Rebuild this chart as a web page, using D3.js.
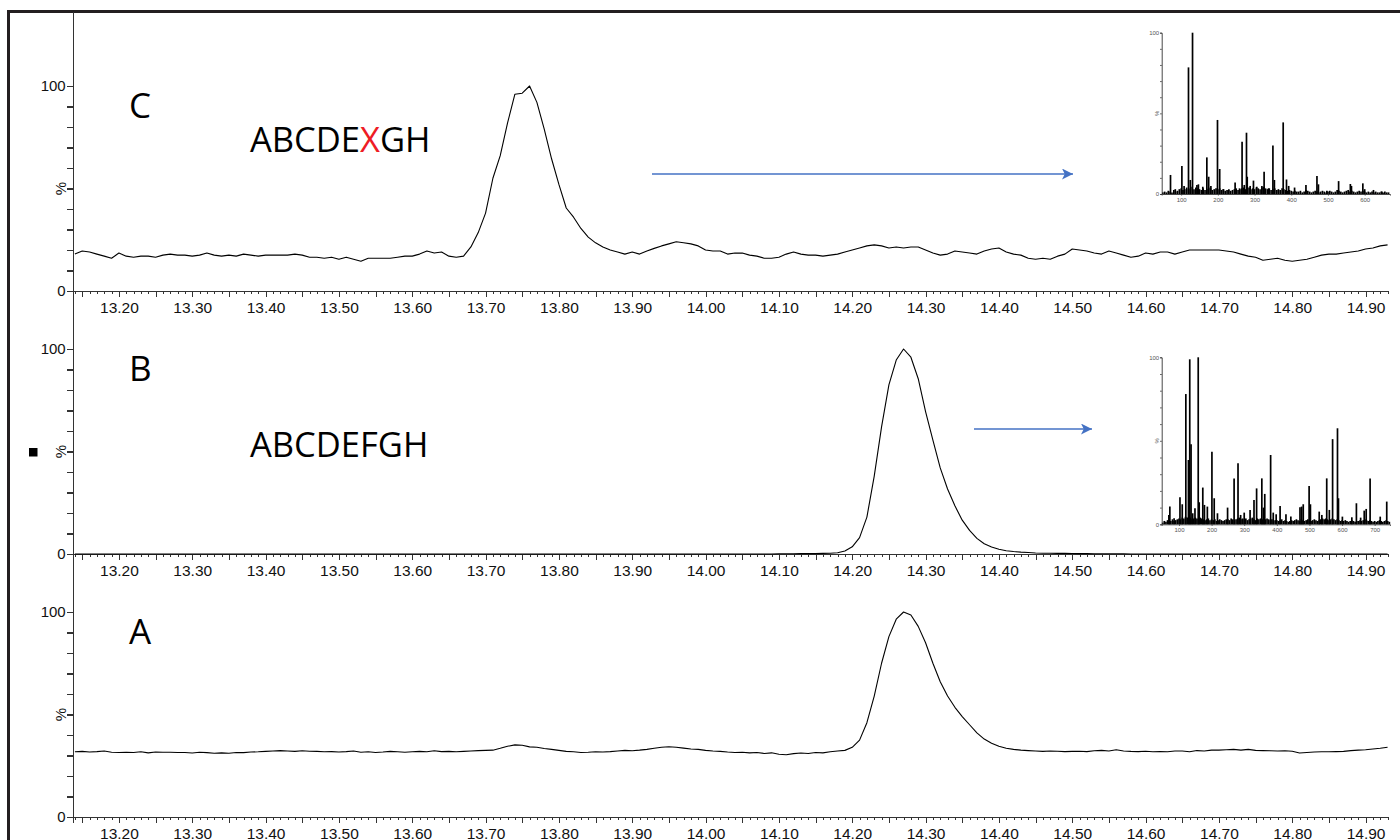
<!DOCTYPE html>
<html>
<head>
<meta charset="utf-8">
<script src="https://cdn.jsdelivr.net/npm/d3@7"></script>
<style>
body { margin: 0; background: #fff; }
svg { display: block; }
</style>
</head>
<body>
<svg></svg>
<script>

// chromatogram sampling grid
const startTime = 13.14
const timeStep = 0.01

const traceC = [
    18, 19.5, 19, 18, 17, 16,
    18.5, 17, 16.5, 17, 17, 16.5, 17.5, 18, 17.5, 17.5,
    17, 17.5, 18.5, 17.5, 17, 17.5, 17, 18, 17.5, 17,
    17.5, 17.5, 17.5, 17.5, 18, 17.5, 16.5, 16.5, 16, 16.5,
    15.5, 16.5, 15.5, 14.5, 16, 16, 16, 16, 16.5, 17,
    17, 18, 19.5, 18.5, 19, 17, 16.5, 17, 21.5, 28.5,
    38, 55, 66, 82, 96, 96.5, 100, 92, 79, 64.5,
    52, 40.5, 36, 30.5, 26.3, 23.5, 21.5, 20, 19, 18,
    19, 18, 19.5, 20.8, 22, 23, 24, 23.5, 23, 22,
    20, 19.5, 19.5, 18, 18.5, 18.5, 17.5, 17, 16, 16,
    16.5, 18, 19, 18, 17.5, 17.5, 17, 17.5, 18, 19,
    20, 21, 22, 22.5, 22, 21, 21.5, 21, 21.5, 21.5,
    20, 18.5, 17.5, 18, 19.5, 19, 18.5, 18, 19.5, 20.5,
    21, 19, 18, 17.5, 16, 15.5, 16, 15.5, 17, 18,
    20.5, 20, 19.5, 18.5, 18, 19.5, 18.5, 17.5, 16.5, 17,
    18.5, 18, 19, 19, 18, 19, 20, 20, 20, 20,
    20, 19.5, 19, 18, 17, 16.5, 15, 15.5, 16, 15,
    14.5, 15, 15.5, 16.5, 17.5, 18, 18, 18.5, 19, 19.5,
    20.5, 21, 22, 22.5
]

const traceB = [
    0, 0, 0, 0, 0, 0,
    0, 0, 0, 0, 0, 0, 0, 0, 0, 0,
    0, 0, 0, 0, 0, 0, 0, 0, 0, 0,
    0, 0, 0, 0, 0, 0, 0, 0, 0, 0,
    0, 0, 0, 0, 0, 0, 0, 0, 0, 0,
    0, 0, 0, 0, 0, 0, 0, 0, 0, 0,
    0, 0, 0, 0, 0, 0, 0, 0, 0, 0,
    0, 0, 0, 0, 0, 0, 0, 0, 0, 0,
    0, 0, 0, 0, 0, 0, 0, 0, 0, 0,
    0, 0, 0, 0, 0, 0, 0, 0, 0, 0,
    0.1, 0.1, 0.1, 0.2, 0.2, 0.2, 0.3, 0.4, 0.6, 1.5,
    3.5, 8, 18, 38, 62, 82.5, 94.6, 100, 96, 85.5,
    69.5, 55.5, 42, 31.7, 23.5, 16.5, 11.5, 7.6, 5, 3.4,
    2.3, 1.6, 1.2, 0.9, 0.7, 0.5, 0.4, 0.35, 0.3, 0.3,
    0.25, 0.2, 0.2, 0.15, 0.1, 0.1, 0.1, 0.1, 0, 0,
    0, 0, 0, 0, 0, 0, 0, 0, 0, 0,
    0, 0, 0, 0, 0, 0, 0, 0, 0, 0,
    0, 0, 0, 0, 0, 0, 0, 0, 0, 0,
    0, 0, 0, 0
]

const traceA = [
    31.8, 32, 31.7, 31.9, 32.2, 31.6,
    31.5, 31.6, 31.5, 31.8, 31.3, 31.7, 31.6, 31.6, 31.5, 31.5,
    31.2, 31.6, 31.4, 31.1, 31.3, 31.1, 31.5, 31.4, 31.7, 31.8,
    32, 32.2, 32.4, 32.2, 32, 32.3, 32.1, 32, 31.8, 31.9,
    31.7, 31.9, 32.2, 31.6, 31.8, 31.5, 31.7, 32, 31.8, 31.6,
    31.8, 32, 31.8, 32.3, 31.9, 32, 31.8, 32, 32.2, 32.4,
    32.5, 32.6, 33.5, 34.5, 35.2, 35, 34.2, 34, 33.4, 33,
    32.5, 32, 31.8, 31.5, 31.6, 31.8, 31.7, 31.9, 32.2, 32.5,
    32.3, 32.6, 33, 33.5, 34, 34.3, 34, 33.6, 33.2, 33,
    32.5, 32.2, 32, 31.7, 31.5, 31.6, 31.3, 31.5, 31, 31.3,
    30.6, 30.4, 30.9, 31.2, 31, 31.5, 31.3, 31.8, 32.2, 32.5,
    34, 37.5, 46, 59, 75, 88, 96.5, 100, 98.5, 93,
    85, 75, 66, 59, 53.5, 49, 45, 41, 38, 36,
    34.5, 33.5, 33, 32.6, 32.4, 32.2, 32, 32.2, 32.1, 31.9,
    32, 32.1, 31.9, 32.3, 32.5, 32.2, 32.8, 32.2, 32, 31.9,
    32.1, 31.8, 31.9, 31.8, 32.2, 32.2, 31.8, 32.4, 32.2, 32.6,
    32.6, 32.8, 33, 32.6, 33, 32.5, 32.4, 32.3, 32.2, 32.3,
    32.1, 31.2, 31.5, 31.7, 31.8, 31.8, 31.9, 32, 32.4, 32.6,
    32.8, 33.2, 33.5, 34
]

const panelLabels = ["C", "B", "A"]
const sequenceLabels = ["ABCDE", "X", "GH"]
const sequenceLabelB = "ABCDEFGH"

const xTickLabels = [
    "13.20", "13.30", "13.40", "13.50", "13.60", "13.70", "13.80", "13.90", "14.00",
    "14.10", "14.20", "14.30", "14.40", "14.50", "14.60", "14.70", "14.80", "14.90"
]
const yTickLabels = ["0", "100"]

// mass spectrum in inset C
const specCMz = [71, 84, 102, 108, 120, 125, 131, 143, 147, 159, 170, 175, 181, 199, 205, 215, 229, 247, 259, 266,
    272, 278, 280, 288, 297, 306, 320, 326, 338, 350, 354, 365, 378, 387, 393, 409, 440, 470, 474, 497,
    529, 561, 564, 595, 600, 624, 647]
const specCInt = [11.8, 3, 17.4, 5, 78.5, 8.7, 100, 5.6, 6, 4.5, 22.7, 10.7, 5, 45.9, 15.5, 3, 2.5, 7.2, 3.5, 32.4,
    5.6, 38, 10.7, 5, 8.3, 4.5, 5, 13.8, 3.5, 30, 8.7, 2.5, 44.4, 9, 5, 4, 5.6, 11.2, 6, 2,
    8, 6.2, 5, 6.6, 3, 2.5, 1.5]
const specCFloor = [
    1, 1.5, 1, 2, 1.5, 1, 2.5, 1.5, 2, 3,
    3.5, 2.5, 3, 4, 3, 3.5, 4.5, 3, 4, 3.5,
    3, 2.5, 3.5, 2.5, 3, 4, 3.5, 2.5, 3, 3.5,
    3, 3.5, 2.5, 3, 2, 2.5, 3, 2, 2.5, 3,
    3.5, 2.5, 3, 3.5, 4, 3, 3.5, 4, 3, 3.5,
    3, 4, 3.5, 3, 4, 4.5, 3.5, 3, 3.5, 2.5,
    3, 3.5, 2.5, 3, 2.5, 3.5, 3, 2.5, 2, 2.5,
    2, 1.5, 2, 1.5, 1.5, 2, 1, 1.5, 2.5, 2,
    1.5, 1, 1.5, 2, 1.5, 1, 1.5, 2, 1.5, 1,
    1.5, 2, 1.5, 1, 1.5, 2.5, 2, 1.5, 1, 1.5,
    2, 2.5, 1.5, 2, 1.5, 1, 1.5, 2, 1.5, 2,
    1.5, 1, 1.5, 1, 1.5, 1, 1.5, 1, 1, 1.5,
    1, 1.5, 1, 1
]
const specCTicks = ["100", "200", "300", "400", "500", "600"]

// mass spectrum in inset B
const specBMz = [69, 72, 85, 103, 110, 121, 129, 133, 137, 142, 149, 159, 162, 173, 178, 187, 201, 208, 218, 249,
    269, 281, 289, 300, 318, 330, 338, 354, 359, 363, 381, 389, 398, 410, 428, 443, 471, 476, 481, 499,
    503, 530, 538, 553, 561, 571, 586, 589, 601, 630, 644, 657, 668, 674, 686, 717, 737]
const specBInt = [5.6, 10.6, 3.6, 16.2, 12, 78, 38.5, 98.8, 48, 6.6, 9.6, 100, 13.2, 22, 11.6, 10.6, 43.5, 15.6, 6.6, 10,
    27.5, 36.5, 5.6, 7, 8.6, 14.6, 21.5, 27.5, 10, 18.2, 41.5, 7, 6, 11, 6, 4.6, 10.2, 10.6, 12, 23,
    12, 7.6, 5.6, 27.5, 8.6, 51, 57.5, 15.6, 4.6, 4.2, 12.6, 4, 8.2, 9.2, 27.5, 4.6, 13.6]
const specBFloor = [
    1, 2, 1.5, 2.5, 1.5, 2, 3, 2, 2.5, 3,
    3.5, 3, 4, 3.5, 4.5, 4, 3.5, 4, 3, 3.5,
    4, 3.5, 3, 4, 3.5, 3, 2.5, 3, 3.5, 2.5,
    3, 2.5, 3, 2, 2.5, 3, 2.5, 2, 2.5, 3,
    3, 2.5, 3.5, 3, 2.5, 3, 3.5, 4, 3, 3.5,
    3, 3.5, 2.5, 3, 3.5, 4, 3, 2.5, 3.5, 3,
    3.5, 3, 2.5, 3, 3.5, 3, 2.5, 3, 2, 2.5,
    2.5, 2, 2.5, 3, 2, 2.5, 2, 1.5, 2, 2.5,
    2, 2.5, 3, 2.5, 2, 3, 2.5, 2, 2.5, 3,
    2.5, 2, 2.5, 3, 2.5, 2, 2.5, 3, 3.5, 3,
    3.5, 3, 2.5, 3, 3.5, 3, 2.5, 3, 2.5, 2,
    2.5, 2, 2.5, 2, 1.5, 2, 2.5, 2, 1.5, 2,
    2, 2.5, 2, 2.5, 3, 2.5, 2, 2.5, 2, 1.5,
    2, 1.5, 2, 2.5, 2, 1.5, 2, 2.5, 2, 1.5
]
const specBTicks = ["100", "200", "300", "400", "500", "600", "700"]

const floorStart = 50
const floorStep = 5


const svg = d3.select("svg")
    .attr("width", 1400)
    .attr("height", 840)

svg.append("rect")
    .attr("width", 1400)
    .attr("height", 840)
    .attr("fill", "#fff")

// outer frame (only top and left edges are visible in the picture)
svg.append("rect")
    .attr("x", 8.5)
    .attr("y", 11.5)
    .attr("width", 1500)
    .attr("height", 1000)
    .attr("fill", "none")
    .attr("stroke", "#231f20")
    .attr("stroke-width", 3)

svg.append("rect")
    .attr("x", 29)
    .attr("y", 448)
    .attr("width", 8.5)
    .attr("height", 8.5)
    .attr("fill", "#000")

const x = d3.scaleLinear()
    .domain([13.137, 14.931])
    .range([72.7, 1388.3])

const minorTicks = d3.range(1314, 1494).map(d => d / 100).filter(d => d >= 13.137 && d <= 14.931)
const midTicks = d3.range(263, 299).map(d => d * 0.05).filter(d => Math.round(d * 100) % 10 !== 0)

const times = traceC.map((d, i) => startTime + i * timeStep)

const panelTops = [86, 349, 612]
const panelHeight = 205
const traces = [traceC, traceB, traceA]

const axisColor = "#333"

const drawPanel = function(trace, top, label) {

    const y = d3.scaleLinear()
        .domain([0, 100])
        .range([top + panelHeight, top])

    const g = svg.append("g")

    // x axis: minor ticks, half ticks, labelled ticks
    g.append("g")
        .attr("transform", `translate(0, ${top + panelHeight})`)
        .call(d3.axisBottom(x).tickValues(minorTicks).tickSize(3).tickFormat(""))
    g.append("g")
        .attr("transform", `translate(0, ${top + panelHeight})`)
        .call(d3.axisBottom(x).tickValues(midTicks).tickSize(6).tickFormat(""))
    g.append("g")
        .attr("class", "xlab")
        .attr("transform", `translate(0, ${top + panelHeight})`)
        .call(d3.axisBottom(x)
            .tickValues(xTickLabels.map(Number))
            .tickSize(6)
            .tickPadding(5)
            .tickFormat((d, i) => xTickLabels[i]))

    g.append("g")
        .attr("class", "ylab")
        .attr("transform", "translate(72.7, 0)")
        .call(d3.axisLeft(y)
            .tickValues(d3.range(0, 101, 10))
            .tickSize(6)
            .tickPadding(1)
            .tickFormat(d => yTickLabels.includes(String(d)) ? String(d) : ""))

    g.selectAll(".domain, .tick line")
        .attr("stroke", axisColor)
        .attr("stroke-width", 1.1)
        .attr("shape-rendering", "crispEdges")

    g.selectAll(".domain").attr("d", function() {
        return d3.select(this).attr("d").replace(/V6|V-6|H-6/g, m => m[0] + "0")
    })

    g.selectAll(".xlab text")
        .attr("font-family", "Liberation Sans, Arial, sans-serif")
        .attr("font-size", 15.5)
        .attr("fill", "#111")

    g.selectAll(".ylab text")
        .attr("font-family", "Liberation Sans, Arial, sans-serif")
        .attr("font-size", 15)
        .attr("fill", "#111")

    g.append("text")
        .attr("transform", `translate(66, ${y(50)}) rotate(-90)`)
        .attr("text-anchor", "middle")
        .attr("font-family", "Liberation Sans, Arial, sans-serif")
        .attr("font-size", 15)
        .attr("fill", "#111")
        .text("%")

    const line = d3.line()
        .x((d, i) => x(times[i]))
        .y(d => y(d))

    g.append("path")
        .datum(trace)
        .attr("d", line)
        .attr("fill", "none")
        .attr("stroke", "#000")
        .attr("stroke-width", 1.1)
        .attr("stroke-linejoin", "round")

    g.append("text")
        .attr("x", 129)
        .attr("y", top + 32)
        .attr("font-family", "Open Sans, sans-serif")
        .attr("font-size", 35)
        .attr("fill", "#000")
        .text(label)
}

traces.forEach((trace, i) => drawPanel(trace, panelTops[i], panelLabels[i]))

// sequence labels
const seqC = svg.append("text")
    .attr("x", 250)
    .attr("y", 152)
    .attr("font-family", "Open Sans, sans-serif")
    .attr("font-size", 34.5)
    .attr("fill", "#000")

seqC.selectAll("tspan")
    .data(sequenceLabels)
    .enter()
    .append("tspan")
    .attr("fill", (d, i) => i === 1 ? "#ee1c25" : "#000")
    .text(d => d)

svg.append("text")
    .attr("x", 250)
    .attr("y", 457)
    .attr("font-family", "Open Sans, sans-serif")
    .attr("font-size", 34.5)
    .attr("fill", "#000")
    .text(sequenceLabelB)

// arrows
svg.append("defs")
    .append("marker")
    .attr("id", "head")
    .attr("viewBox", "0 0 10 10")
    .attr("refX", 10)
    .attr("refY", 5)
    .attr("markerWidth", 14)
    .attr("markerHeight", 11)
    .attr("markerUnits", "userSpaceOnUse")
    .attr("orient", "auto")
    .append("path")
    .attr("d", "M0,0 L10,5 L0,10 L2.5,5 Z")
    .attr("fill", "#4472c4")

const arrows = [[652, 1073, 174], [974, 1092, 429]]

svg.selectAll("line.arrow")
    .data(arrows)
    .enter()
    .append("line")
    .attr("class", "arrow")
    .attr("x1", d => d[0])
    .attr("x2", d => d[1])
    .attr("y1", d => d[2])
    .attr("y2", d => d[2])
    .attr("stroke", "#4472c4")
    .attr("stroke-width", 1.7)
    .attr("marker-end", "url(#head)")

// spectrum insets
const drawInset = function(mz, intensity, floor, tickLabels, mzDomain, bottom, top) {

    const sx = d3.scaleLinear()
        .domain(mzDomain)
        .range([1161.7, 1390])

    const sy = d3.scaleLinear()
        .domain([0, 100])
        .range([bottom, top])

    const g = svg.append("g")

    const sticks = floor
        .map((v, i) => ({ mz: floorStart + i * floorStep, v: v }))
        .concat(mz.map((m, i) => ({ mz: m, v: intensity[i] })))

    g.selectAll("line.stick")
        .data(sticks)
        .enter()
        .append("line")
        .attr("class", "stick")
        .attr("x1", d => sx(d.mz))
        .attr("x2", d => sx(d.mz))
        .attr("y1", sy(0))
        .attr("y2", d => sy(d.v))
        .attr("stroke", "#000")
        .attr("stroke-width", 1.7)

    g.append("g")
        .attr("class", "inx")
        .attr("transform", `translate(0, ${bottom})`)
        .call(d3.axisBottom(sx)
            .tickValues(tickLabels.map(Number))
            .tickSize(1.5)
            .tickPadding(2)
            .tickFormat((d, i) => tickLabels[i]))

    g.append("g")
        .attr("class", "iny")
        .attr("transform", "translate(1161.7, 0)")
        .call(d3.axisLeft(sy)
            .tickValues(d3.range(0, 101, 10))
            .tickSize(1.5)
            .tickPadding(1)
            .tickFormat(d => d === 0 || d === 100 ? String(d) : ""))

    g.selectAll(".domain, .tick line")
        .attr("stroke", "#333")
        .attr("stroke-width", 0.9)

    g.selectAll(".inx text, .iny text")
        .attr("font-family", "Liberation Sans, Arial, sans-serif")
        .attr("font-size", 6)
        .attr("fill", "#555")

    g.append("text")
        .attr("transform", `translate(1158.5, ${sy(50)}) rotate(-90)`)
        .attr("text-anchor", "middle")
        .attr("font-family", "Liberation Sans, Arial, sans-serif")
        .attr("font-size", 6)
        .attr("fill", "#555")
        .text("%")
}

drawInset(specCMz, specCInt, specCFloor, specCTicks, [47, 669], 194, 32.7)
drawInset(specBMz, specBInt, specBFloor, specBTicks, [47, 747], 524.3, 357.3)

</script>
</body>
</html>
